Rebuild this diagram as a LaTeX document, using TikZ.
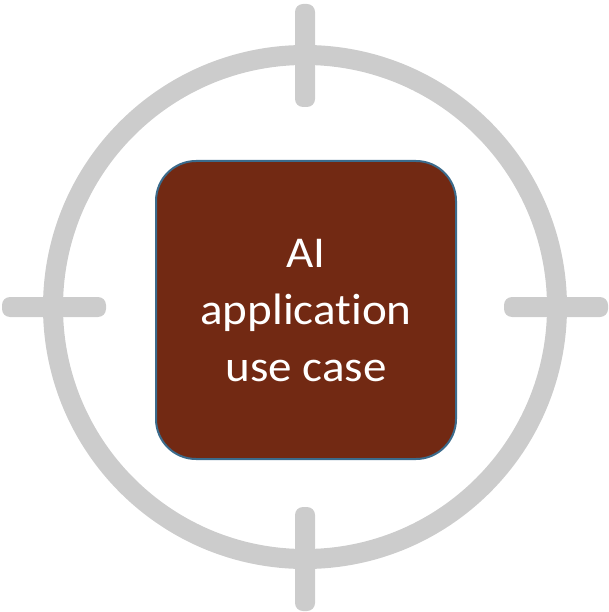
\documentclass[tikz,border=0pt]{standalone}
\usepackage{fontspec}
\setmainfont{Carlito}[Ligatures=NoCommon,FakeStretch=1.07]
\definecolor{ringgray}{HTML}{CCCCCC}
\definecolor{boxfill}{HTML}{722913}
\definecolor{boxedge}{HTML}{3B6B8C}
\begin{document}
\begin{tikzpicture}[x=1pt,y=-1pt,
  ring/.style={draw=ringgray,line width=20pt},
  tick/.style={fill=ringgray,rounded corners=8pt},
  casebox/.style={draw=boxedge,line width=2pt,fill=boxfill,rounded corners=40pt},
  casetext/.style={text=white,align=center,font=\fontsize{44}{57}\selectfont}]
\useasboundingbox (0,0) rectangle (609,612);
% target ring
\draw[ring] (305,307) circle[radius=252];
% crosshair ticks
\fill[tick] (295,4) rectangle (315,107);
\fill[tick] (295,507) rectangle (315,611);
\fill[tick] (2,297) rectangle (106,317);
\fill[tick] (504,297) rectangle (608,317);
% central box
\draw[casebox] (156,161) rectangle (456,459);
\node[casetext] (usecase) at (306,311) {AI\\application\\use case};
\end{tikzpicture}
\end{document}
